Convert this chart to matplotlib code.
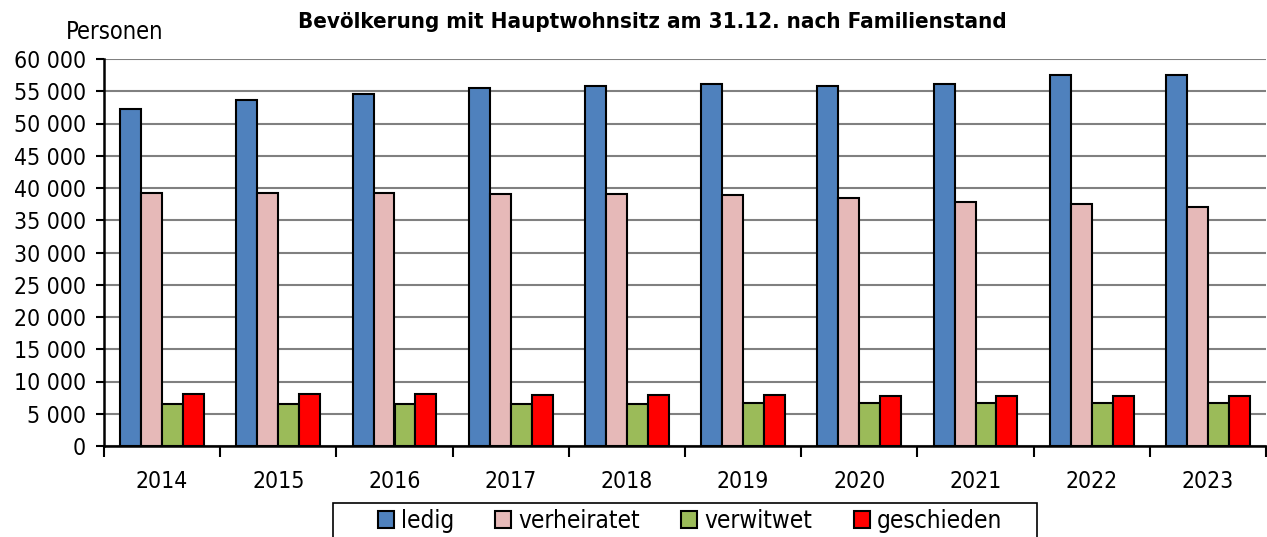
import numpy as np
import matplotlib.pyplot as plt
from matplotlib.ticker import FuncFormatter
from matplotlib.patches import Rectangle

plt.rcParams['font.family'] = ['DejaVu Sans']
plt.rcParams['font.stretch'] = 'condensed'

years = ["2014", "2015", "2016", "2017", "2018", "2019", "2020", "2021", "2022", "2023"]
ledig = [52300, 53700, 54600, 55450, 55850, 56050, 55850, 56200, 57450, 57500]
verheiratet = [39250, 39200, 39150, 39100, 39050, 38850, 38450, 37850, 37450, 37050]
verwitwet = [6450, 6500, 6550, 6550, 6550, 6600, 6650, 6650, 6700, 6700]
geschieden = [8050, 8000, 8000, 7950, 7900, 7850, 7800, 7750, 7700, 7700]

series = [("ledig", ledig, "#4f81bd"),
          ("verheiratet", verheiratet, "#e6b9b8"),
          ("verwitwet", verwitwet, "#9bbb59"),
          ("geschieden", geschieden, "#ff0000")]

W, H = 1267, 537
fig = plt.figure(figsize=(W / 100, H / 100), dpi=100)
ax = fig.add_axes([104/W, 1-446/H, 1162/W, 387/H])

x = np.arange(len(years))
w = 0.18
for i, (name, vals, col) in enumerate(series):
    ax.bar(x + (i - 1.5) * w, vals, w, color=col, edgecolor="black", linewidth=1.5,
           label=name, zorder=3)

ax.set_xlim(-0.5, len(years) - 0.5)
ax.set_ylim(0, 60000)
ax.set_yticks(range(0, 60001, 5000))
ax.yaxis.set_major_formatter(FuncFormatter(lambda v, p: f"{int(v):,}".replace(",", " ")))
ax.grid(axis="y", color="#808080", linewidth=1.5, zorder=0)
ax.set_xticks(x)
ax.set_xticklabels(years)
ax.set_xticks(np.arange(-0.5, len(years)), minor=True)
ax.tick_params(axis="x", which="major", length=0, labelsize=16.5, pad=17)
ax.tick_params(axis="x", which="minor", length=8, width=1.5, direction="out")
ax.tick_params(axis="y", length=6, width=1.5, labelsize=16.5, pad=7)
for s in ["top", "right"]:
    ax.spines[s].set_visible(False)
for s in ["left", "bottom"]:
    ax.spines[s].set_linewidth(1.8)

fig.text(652/W, 1-22/H, "Bevölkerung mit Hauptwohnsitz am 31.12. nach Familienstand",
         ha="center", va="center", fontsize=16, fontweight="bold")
fig.text(115/W, 1-32/H, "Personen", ha="center", va="center", fontsize=17)

leg = fig.legend(loc="center", bbox_to_anchor=(690/W, 1-521/H), ncol=4,
                 fontsize=17.5, frameon=False,
                 handlelength=0.65, handleheight=0.65, handletextpad=0.3,
                 columnspacing=1.7)
fig.patches.append(Rectangle((333/W, -0.02), (1037-333)/W, 0.02+(H-503)/H,
                             transform=fig.transFigure, fill=False,
                             edgecolor="black", linewidth=1.2))

fig.savefig("out.png", dpi=100)
